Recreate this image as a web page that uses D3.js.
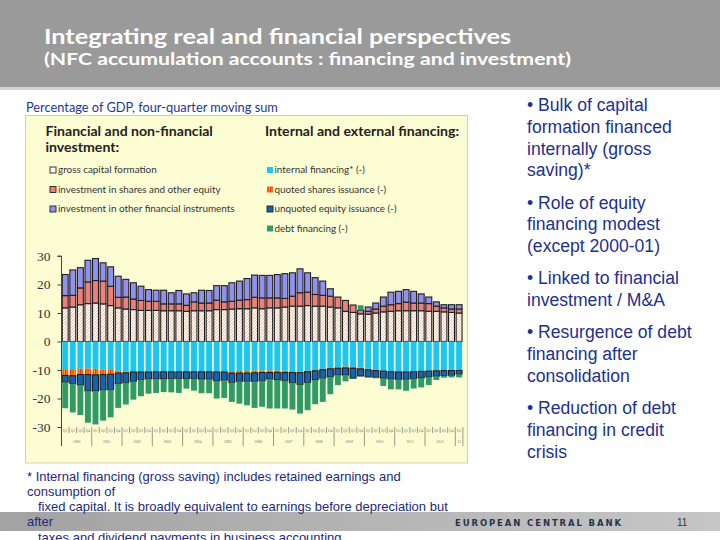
<!DOCTYPE html>
<html>
<head>
<meta charset="utf-8">
<script src="https://cdn.jsdelivr.net/npm/d3@7"></script>
<style>
body { margin: 0; background: #fff; }
svg { display: block; }
</style>
</head>
<body>
<div class="container"></div>
<script>
var w = 720;
var h = 540;

// quarters 2000Q1 - 2013Q1
var years = ["2000","2001","2002","2003","2004","2005","2006","2007","2008","2009","2010","2011","2012","2013"];
var yearLabels = ["2000","2001","2002","2003","2004","2005","2006","2007","2008","2009","2010","2011","2012","13"];
var quarterNames = ["Q1","Q2","Q3","Q4"];

// percentage of GDP, four-quarter moving sum
var grossCapital = [11.8,12.1,12.9,13.3, 13.5,13.2,12.6,11.8, 11.4,11.2,10.9,10.9, 10.9,10.8,10.8,10.8,
  10.6,10.8,10.8,10.8, 11.2,11.2,11.4,11.5, 11.5,11.8,11.5,11.8, 11.8,12.1,12.4,12.4, 12.6,12.4,12.4,12.1,
  11.8,10.6,10.2,9.7, 9.6,10.0,10.4,10.6, 10.8,10.8,10.8,10.8, 10.6,10.6,10.4,10.2, 10.0];
var sharesInvest = [4.3,4.1,5.9,7.6, 7.9,8.0,6.8,3.7, 4.2,3.7,3.5,3.2, 3.2,2.4,2.4,2.4,
  2.1,3.1,2.7,2.7, 3.3,2.7,2.7,3.0, 3.2,3.7,3.8,3.5, 3.5,3.0,3.5,4.7, 4.7,4.1,3.8,3.8,
  3.8,3.8,2.6,1.2, 1.0,1.4,2.0,2.3, 2.5,3.0,2.7,2.7, 2.7,1.8,1.4,1.2, 1.4];
var otherInvest = [7.4,8.9,7.1,7.6, 7.7,6.4,6.8,7.4, 6.2,5.7,5.0,4.1, 3.9,4.8,3.9,4.7,
  4.0,3.2,4.5,4.4, 5.1,5.7,6.5,6.7, 7.4,7.8,7.9,7.9, 8.2,8.7,8.2,8.4, 6.8,5.9,5.0,2.6,
  0,0,0,0, 1.5,2.1,3.2,4.4, 4.3,4.4,4.1,3.2, 2.3,1.5,1.1,1.5, 1.5];
var internalFin = [-9.7,-9.7,-9.6,-9.5, -9.6,-9.8,-10.0,-10.3, -10.5,-10.5,-10.6,-10.6, -10.6,-10.6,-10.6,-10.6,
  -10.6,-10.6,-10.6,-10.6, -10.6,-10.5,-10.4,-10.3, -10.3,-10.2,-10.2,-10.2, -10.2,-10.3,-10.4,-10.5, -10.3,-10.0,-9.6,-9.3,
  -9.0,-8.8,-8.9,-9.2, -9.6,-10.0,-10.3,-10.5, -10.6,-10.6,-10.5,-10.4, -10.3,-10.2,-10.1,-10.1, -10.1];
var quotedShares = [-2.2,-2.3,-2.0,-2.1, -2.1,-1.8,-1.5,-0.8, -0.5,-0.2,-0.1,-0.1, -0.05,-0.05,-0.05,-0.05,
  -0.05,-0.05,-0.05,-0.05, -0.1,-0.2,-0.7,-0.8, -0.8,-0.8,-0.7,-0.7, -0.6,-0.6,-0.5,-0.4, -0.3,-0.3,-0.3,-0.3,
  -0.4,-0.5,-0.5,-0.4, -0.3,-0.2,-0.1,-0.1, -0.1,-0.1,-0.1,-0.1, -0.1,-0.1,-0.1,-0.1, -0.1];
var unquotedEquity = [-2.4,-2.8,-3.7,-5.8, -5.7,-5.5,-5.4,-3.7, -3.5,-3.3,-2.7,-2.4, -2.5,-2.5,-2.4,-2.4,
  -2.4,-2.4,-2.6,-2.6, -3.2,-2.9,-3.3,-2.9, -2.9,-3.0,-2.9,-2.3, -2.7,-2.9,-3.6,-4.2, -3.8,-3.2,-3.0,-2.8,
  -2.4,-2.5,-3.5,-2.5, -2.5,-2.4,-2.5,-2.6, -2.6,-2.6,-2.4,-2.3, -2.0,-1.9,-1.8,-1.7, -1.3];
var debtFin = [-9.1,-10.1,-10.5,-11.1, -11.7,-10.7,-9.7,-8.5, -7.6,-6.4,-5.8,-5.2, -4.9,-4.6,-4.8,-5.0,
  -3.5,-4.2,-4.9,-4.9, -6.1,-6.2,-6.8,-7.8, -8.4,-9.3,-9.1,-10.3, -10.0,-9.7,-9.4,-10.2, -9.7,-8.5,-8.3,-6.1,
  -3.5,-2.2,-0.2,1.8, -0.2,-0.3,-2.7,-3.6, -3.5,-4.0,-3.5,-3.3, -2.9,-1.3,-0.7,-0.7, -1.1];

var yTicks = [30, 20, 10, 0, -10, -20, -30];

var leftLegend = ["gross capital formation", "investment in shares and other equity", "investment in other financial instruments"];
var rightLegend = ["internal financing* (-)", "quoted shares issuance (-)", "unquoted equity issuance (-)", "debt financing (-)"];

var bullets = [
  ["\u2022 Bulk of capital", "formation financed", "internally (gross", "saving)*"],
  ["\u2022 Role of equity", "financing modest", "(except 2000-01)"],
  ["\u2022 Linked to financial", "investment / M&A"],
  ["\u2022 Resurgence of debt", "financing after", "consolidation"],
  ["\u2022 Reduction of debt", "financing in credit", "crisis"]
];

var footnote = [
  "* Internal financing (gross saving) includes retained earnings and",
  "consumption of",
  "fixed capital. It is broadly equivalent to earnings before depreciation but",
  "after",
  "taxes and dividend payments in business accounting"
];

var quarters = [];
years.forEach(function(y) {
  quarterNames.forEach(function(q) {
    if (y !== "2013" || q === "Q1") quarters.push(y + q);
  });
});

var keys = ["gcf", "shares", "other", "internal", "quoted", "unquoted", "debt"];
var series = [grossCapital, sharesInvest, otherInvest, internalFin, quotedShares, unquotedEquity, debtFin];
var rows = quarters.map(function(q, i) {
  var r = { q: q };
  keys.forEach(function(k, j) { r[k] = series[j][i]; });
  return r;
});

var fills = {
  gcf: "url(#hatch)",
  shares: "#ef7f7c",
  other: "#9191f0",
  internal: "#1cc6f2",
  quoted: "url(#stripes)",
  unquoted: "#1163b5",
  debt: "#2f9a68"
};
var outlined = { gcf: true, shares: true, other: true, unquoted: true };

var svg = d3.select(".container")
  .append("svg")
  .attr("width", w)
  .attr("height", h);

var defs = svg.append("defs");
var hatch = defs.append("pattern")
  .attr("id", "hatch")
  .attr("patternUnits", "userSpaceOnUse")
  .attr("width", 3).attr("height", 3);
hatch.append("rect").attr("width", 3).attr("height", 3).attr("fill", "#fff8f2");
hatch.append("path").attr("d", "M-1,1 l2,-2 M0,3 l3,-3 M2,4 l2,-2")
  .attr("stroke", "#f0b3a3").attr("stroke-width", 0.8);

var stripes = defs.append("pattern")
  .attr("id", "stripes")
  .attr("patternUnits", "userSpaceOnUse")
  .attr("width", 2.5).attr("height", 4);
stripes.append("rect").attr("width", 2.5).attr("height", 4).attr("fill", "#ff9a1a");
stripes.append("rect").attr("width", 1.2).attr("height", 4).attr("fill", "#f02c00");

var grad = defs.append("linearGradient").attr("id", "footGrad");
grad.append("stop").attr("offset", "0%").attr("stop-color", "#a2a2a2");
grad.append("stop").attr("offset", "100%").attr("stop-color", "#c6c6c6");

// header
svg.append("rect").attr("x", 0).attr("y", 0).attr("width", w).attr("height", 87).attr("fill", "#9a9a9a");
svg.append("rect").attr("x", 0).attr("y", 87).attr("width", w).attr("height", 3).attr("fill", "#d4d4d4");
svg.append("text")
  .attr("x", 44).attr("y", 44)
  .attr("font-family", "Lato").attr("font-weight", "bold").attr("font-size", 20.5)
  .attr("fill", "#fff")
  .attr("textLength", 467).attr("lengthAdjust", "spacingAndGlyphs")
  .text("Integrating real and financial perspectives");
svg.append("text")
  .attr("x", 44).attr("y", 65)
  .attr("font-family", "Lato").attr("font-weight", "bold").attr("font-size", 17)
  .attr("fill", "#fff")
  .attr("textLength", 527).attr("lengthAdjust", "spacingAndGlyphs")
  .text("(NFC accumulation accounts : financing and investment)");

svg.append("text")
  .attr("x", 26).attr("y", 111.5)
  .attr("font-family", "Lato").attr("font-size", 12.8)
  .attr("fill", "#1f3790")
  .text("Percentage of GDP, four-quarter moving sum");

// chart panel
svg.append("rect")
  .attr("x", 25.5).attr("y", 115.5).attr("width", 442).attr("height", 347.5)
  .attr("fill", "#fdfdd3").attr("stroke", "#cfcfb8");

var legend = svg.append("g").attr("class", "legend");
legend.append("text").attr("x", 45.5).attr("y", 135.5)
  .attr("font-family", "Lato").attr("font-weight", "bold").attr("font-size", 14.1).attr("fill", "#222")
  .text("Financial and non-financial");
legend.append("text").attr("x", 45.5).attr("y", 151.5)
  .attr("font-family", "Lato").attr("font-weight", "bold").attr("font-size", 14.1).attr("fill", "#222")
  .text("investment:");
legend.append("text").attr("x", 265).attr("y", 135.5)
  .attr("font-family", "Lato").attr("font-weight", "bold").attr("font-size", 14.1).attr("fill", "#222")
  .text("Internal and external financing:");

var leftKeys = ["gcf", "shares", "other"];
var rightKeys = ["internal", "quoted", "unquoted", "debt"];
var rowY = [170, 189.5, 209, 228.5];

leftLegend.forEach(function(t, i) {
  legend.append("rect").attr("x", 50).attr("y", rowY[i] - 3).attr("width", 6).attr("height", 6)
    .attr("fill", leftKeys[i] === "gcf" ? "#fffaf3" : fills[leftKeys[i]])
    .attr("stroke", "#222").attr("stroke-width", 0.9);
  legend.append("text").attr("x", 58).attr("y", rowY[i]).attr("dy", "0.35em")
    .attr("font-family", "Lato").attr("font-size", 9.9).attr("fill", "#333").text(t);
});
rightLegend.forEach(function(t, i) {
  var k = rightKeys[i];
  legend.append("rect").attr("x", 267).attr("y", rowY[i] - 3).attr("width", 6).attr("height", 6)
    .attr("fill", fills[k])
    .attr("stroke", k === "unquoted" ? "#222" : "none").attr("stroke-width", 0.9);
  legend.append("text").attr("x", 274.5).attr("y", rowY[i]).attr("dy", "0.35em")
    .attr("font-family", "Lato").attr("font-size", 9.9).attr("fill", "#333").text(t);
});

// scales
var x = d3.scaleBand()
  .domain(quarters)
  .range([61.5, 462.8])
  .paddingInner(0.22)
  .paddingOuter(0.1);

var y = d3.scaleLinear()
  .domain([-30, 30])
  .range([427, 256]);

var stack = d3.stack().keys(keys).offset(d3.stackOffsetDiverging);
var stacked = stack(rows);

var layers = svg.append("g").attr("class", "bars")
  .selectAll("g")
  .data(stacked)
  .enter().append("g")
  .attr("fill", function(d) { return fills[d.key]; })
  .attr("stroke", function(d) { return outlined[d.key] ? "#1e1e1e" : "none"; })
  .attr("stroke-width", 1.1);

layers.selectAll("rect")
  .data(function(d) { return d.filter(function(p) { return p[1] - p[0] !== 0; }); })
  .enter().append("rect")
  .attr("x", function(d) { return x(d.data.q); })
  .attr("width", x.bandwidth())
  .attr("y", function(d) { return y(d[1]); })
  .attr("height", function(d) { return y(d[0]) - y(d[1]); });

// y axis
var yAxis = svg.append("g")
  .attr("transform", "translate(61.5,0)")
  .call(d3.axisLeft(y).tickValues(yTicks).tickSize(4).tickFormat(d3.format("d")));
yAxis.select(".domain").attr("stroke", "#444").attr("d", "M-4," + y(30) + "H0V446");
yAxis.selectAll(".tick line").attr("stroke", "#444");
yAxis.selectAll(".tick text")
  .attr("x", -11)
  .attr("font-family", "Liberation Serif").attr("font-size", 13.5).attr("fill", "#333")
  .text(function(d) { return d < 0 ? "-" + Math.abs(d) : d; });

// x axis: quarter labels, year separators
var step = x.step();
var xAxis = svg.append("g").attr("transform", "translate(0," + y(-30) + ")");
xAxis.selectAll(".qtick")
  .data(quarters)
  .enter().append("line")
  .attr("x1", function(d) { return x(d) + x.bandwidth() + (step - x.bandwidth()) / 2; })
  .attr("x2", function(d) { return x(d) + x.bandwidth() + (step - x.bandwidth()) / 2; })
  .attr("y1", 0)
  .attr("y2", function(d) { return (d.slice(4) === "Q4" || d === "2013Q1") ? 19 : 6; })
  .attr("stroke", "#555").attr("stroke-width", 0.6);
xAxis.selectAll(".qlabel")
  .data(quarters)
  .enter().append("text")
  .attr("x", function(d) { return x(d) + x.bandwidth() / 2; })
  .attr("y", 4.5)
  .attr("text-anchor", "middle")
  .attr("font-family", "Liberation Serif").attr("font-size", 3.6).attr("fill", "#777")
  .text(function(d) { return d.slice(4); });
xAxis.selectAll(".ylabel")
  .data(years)
  .enter().append("text")
  .attr("x", function(d, i) {
    var qs = quarters.filter(function(q) { return q.slice(0, 4) === d; });
    return (x(qs[0]) + x(qs[qs.length - 1]) + x.bandwidth()) / 2;
  })
  .attr("y", 15.5)
  .attr("text-anchor", "middle")
  .attr("font-family", "Liberation Serif").attr("font-size", 3.8).attr("fill", "#777")
  .text(function(d, i) { return yearLabels[i]; });

// bullets on the right
var lineY = 111;
var bl = svg.append("g").attr("font-family", "Liberation Sans").attr("font-size", 17.6).attr("fill", "#22308f");
bullets.forEach(function(group) {
  group.forEach(function(line) {
    bl.append("text").attr("x", 527).attr("y", lineY).text(line);
    lineY += 21.8;
  });
  lineY += 10.4;
});

// footer band
svg.append("rect").attr("x", 0).attr("y", 512).attr("width", w).attr("height", 19).attr("fill", "url(#footGrad)");
svg.append("text").attr("x", 455).attr("y", 526)
  .attr("font-family", "DejaVu Sans").attr("font-weight", "bold").attr("font-size", 8.5)
  .attr("fill", "#28334f")
  .attr("textLength", 166).attr("lengthAdjust", "spacing")
  .text("EUROPEAN CENTRAL BANK");
svg.append("text").attr("x", 677).attr("y", 526)
  .attr("font-family", "Liberation Sans").attr("font-size", 10).attr("fill", "#333")
  .text("11");

// footnote
var fnX = [27, 27, 38, 27, 38];
var fn = svg.append("g").attr("font-family", "Liberation Sans").attr("font-size", 13).attr("fill", "#1b2a80");
footnote.forEach(function(t, i) {
  fn.append("text").attr("x", fnX[i]).attr("y", 480.5 + i * 15.3).text(t);
});
</script>
</body>
</html>
